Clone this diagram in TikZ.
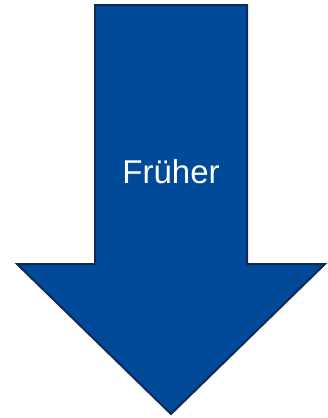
\documentclass[tikz,border=0pt]{standalone}
\usepackage{fontspec}
\setmainfont{Liberation Sans}
\definecolor{arrowfill}{RGB}{0,74,153}
\definecolor{arrowline}{RGB}{16,40,84}
\begin{document}
\begin{tikzpicture}[x=1pt,y=-1pt,
  bigarrow/.style={fill=arrowfill,draw=arrowline,line width=2pt,line join=miter},
  lbl/.style={text=white,font=\fontsize{33}{40}\selectfont,inner sep=0pt}]
\useasboundingbox (0,0) rectangle (328,418);
\draw[bigarrow] (95,5) -- (247,5) -- (247,264) -- (325,264) -- (171,414) -- (17,264) -- (95,264) -- cycle;
\node[lbl,anchor=base] (t) at (171,183) {Früher};
\end{tikzpicture}
\end{document}
